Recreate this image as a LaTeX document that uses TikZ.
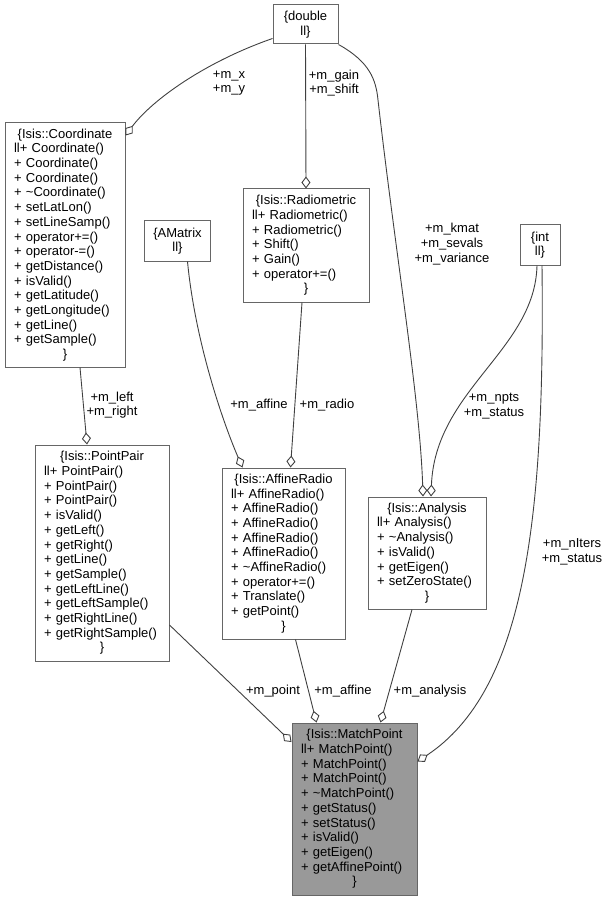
\documentclass[tikz,border=0pt]{standalone}
\usepackage{fontspec}
\setmainfont{Liberation Sans}
\usetikzlibrary{arrows.meta}

\definecolor{boxline}{HTML}{666666}
\definecolor{edgeline}{HTML}{404040}
\definecolor{mainfill}{HTML}{999999}

% class record: centred title, left member list, centred closing brace
\newcommand{\umlcls}[2]{\centering\{#1\par\raggedright #2\par\centering\}\par}

\begin{document}
\begin{tikzpicture}[x=1pt, y=-1pt,
    every node/.style={font=\fontsize{13}{14.7}\selectfont},
    cls/.style={draw=boxline, fill=white, line width=1pt, inner xsep=9pt, inner ysep=3pt},
    agg/.style={draw=edgeline, line width=0.9pt, -{Diamond[open, length=12pt, width=9pt]}},
    lbl/.style={align=center}]
    \useasboundingbox (0,0) rectangle (610,901);

    % types
    \node[cls, align=center, minimum width=65pt, minimum height=39pt] (dbl) at (305.5,24.5) {\{double\\ll\}};
    \node[cls, align=center, minimum width=60pt, minimum height=40pt] (amat) at (177.5,241) {\{AMatrix\\ll\}};
    \node[cls, align=center, minimum width=40pt, minimum height=40pt] (int) at (540,245) {\{int\\ll\}};

    % classes
    \node[cls, text width=102pt, minimum height=244pt] (coord) at (65,245) {\umlcls{Isis::Coordinate}{ll+ Coordinate()\\+ Coordinate()\\+ Coordinate()\\+ \textasciitilde Coordinate()\\+ setLatLon()\\+ setLineSamp()\\+ operator+=()\\+ operator-=()\\+ getDistance()\\+ isValid()\\+ getLatitude()\\+ getLongitude()\\+ getLine()\\+ getSample()}};
    \node[cls, text width=108pt, minimum height=113pt] (radio) at (306,245.5) {\umlcls{Isis::Radiometric}{ll+ Radiometric()\\+ Radiometric()\\+ Shift()\\+ Gain()\\+ operator+=()}};
    \node[cls, text width=116pt, minimum height=216pt] (ppair) at (102,553) {\umlcls{Isis::PointPair}{ll+ PointPair()\\+ PointPair()\\+ PointPair()\\+ isValid()\\+ getLeft()\\+ getRight()\\+ getLine()\\+ getSample()\\+ getLeftLine()\\+ getLeftSample()\\+ getRightLine()\\+ getRightSample()}};
    \node[cls, text width=105pt, minimum height=171pt] (affine) at (283.5,553.5) {\umlcls{Isis::AffineRadio}{ll+ AffineRadio()\\+ AffineRadio()\\+ AffineRadio()\\+ AffineRadio()\\+ AffineRadio()\\+ \textasciitilde AffineRadio()\\+ operator+=()\\+ Translate()\\+ getPoint()}};
    \node[cls, text width=100pt, minimum height=112pt] (ana) at (427,553) {\umlcls{Isis::Analysis}{ll+ Analysis()\\+ \textasciitilde Analysis()\\+ isValid()\\+ getEigen()\\+ setZeroState()}};
    \node[cls, fill=mainfill, text width=107pt, minimum height=172pt] (match) at (354.5,809) {\umlcls{Isis::MatchPoint}{ll+ MatchPoint()\\+ MatchPoint()\\+ MatchPoint()\\+ \textasciitilde MatchPoint()\\+ getStatus()\\+ setStatus()\\+ isValid()\\+ getEigen()\\+ getAffinePoint()}};

    % aggregations
    \draw[agg] ([yshift=6pt]dbl.south west) .. controls (205,62) and (152,100) .. ([yshift=-13pt]coord.north east);
    \draw[agg] (dbl.south) -- (radio.north);
    \draw[agg] (dbl.south east) .. controls (370,62) and (376,80) .. (378,100) .. controls (395,250) and (420,400) .. ([xshift=-4pt]ana.north);
    \draw[agg] ([xshift=15pt]coord.south) -- ([xshift=-15pt]ppair.north);
    \draw[agg] ([xshift=10pt]amat.south) .. controls (195,340) and (222,420) .. ([xshift=-41pt]affine.north);
    \draw[agg] ([xshift=-4pt]radio.south) -- ([xshift=7pt]affine.north);
    \draw[agg] ([xshift=-3pt]int.south) .. controls (535,350) and (435,390) .. ([xshift=4pt]ana.north);
    \draw[agg] ([xshift=2pt]int.south) .. controls (545,520) and (525,690) .. ([yshift=-39pt]match.north east);
    \draw[agg] ([yshift=-72pt]ppair.east) -- ([yshift=67pt]match.west);
    \draw[agg] ([xshift=12pt]affine.south) -- ([xshift=-38pt]match.north);
    \draw[agg] ([xshift=-15pt]ana.south) -- ([xshift=26pt]match.north);

    % member labels
    \node[lbl] (lxy) at (229,83) {+m\_x\\+m\_y};
    \node[lbl] (lgain) at (334,83) {+m\_gain\\+m\_shift};
    \node[lbl] (lkmat) at (452,244) {+m\_kmat\\+m\_sevals\\+m\_variance};
    \node[lbl] (lleft) at (112,405) {+m\_left\\+m\_right};
    \node (laffine) at (259,405) {+m\_affine};
    \node (lradio) at (327,405) {+m\_radio};
    \node[lbl] (lnpts) at (494,406) {+m\_npts\\+m\_status};
    \node[lbl] (liters) at (572,552) {+m\_nIters\\+m\_status};
    \node (lpoint) at (273,691) {+m\_point};
    \node (laffine2) at (343,691) {+m\_affine};
    \node (lanalysis) at (430,691) {+m\_analysis};
\end{tikzpicture}
\end{document}
